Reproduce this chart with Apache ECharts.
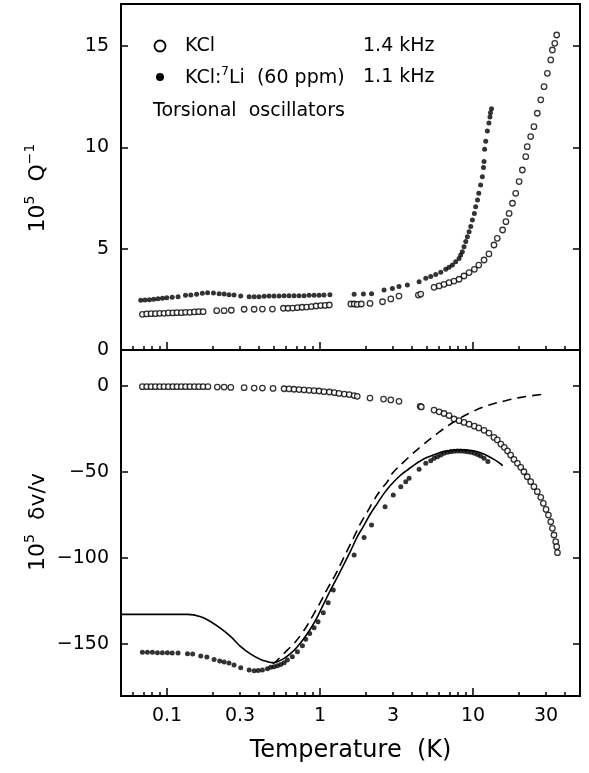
<!DOCTYPE html>
<html>
<head>
<meta charset="utf-8">
<script src="https://cdn.jsdelivr.net/npm/echarts@6/dist/echarts.min.js"></script>
<style>
html, body { margin: 0; padding: 0; background: #fff; }
#chart { width: 589px; height: 773px; }
</style>
</head>
<body>
<div id="chart"></div>
<script>
// Internal friction (upper panel), KCl, 1.4 kHz
const tempKclQ = [0.0690,0.0736,0.0786,0.0839,0.0895,0.0955,0.102,0.109,0.116,0.124,0.132,0.141,0.151,0.161,0.172,
  0.211,0.236,0.263,0.319,0.371,0.420,0.488,
  0.576,0.618,0.663,0.711,0.763,0.818,0.878,0.942,1.01,1.08,1.15,
  1.59,1.67,1.75,1.86,2.12,2.56,2.90,3.28,4.39,4.55,
  5.56,6.0,6.46,6.97,7.51,8.1,8.73,9.42,10.2,10.9,11.8,12.7,13.7,14.4,15.6,16.4,17.2,18.1,19.0,20.0,21.0,22.1,22.6,23.8,25.0,26.3,27.7,29.1,30.6,32.2,33.0,34.2,35.2];
const qKcl = [1.76,1.78,1.79,1.79,1.81,1.81,1.83,1.83,1.84,1.84,1.86,1.86,1.88,1.89,1.89,
  1.94,1.94,1.96,2.01,2.01,2.02,2.02,
  2.06,2.06,2.07,2.09,2.11,2.12,2.14,2.17,2.19,2.20,2.22,
  2.27,2.27,2.25,2.27,2.30,2.38,2.52,2.66,2.71,2.76,
  3.09,3.16,3.24,3.32,3.40,3.49,3.65,3.82,3.98,4.19,4.44,4.74,5.18,5.51,5.92,6.33,6.74,7.24,7.73,8.31,8.88,9.54,10.03,10.53,11.02,11.68,12.34,12.99,13.65,14.31,14.80,15.13,15.54];

// Internal friction (upper panel), KCl:7Li (60 ppm), 1.1 kHz
const tempLiQ = [0.0673,0.0718,0.0767,0.0818,0.0873,0.0933,0.0995,0.108,0.118,0.132,0.143,0.156,0.170,0.184,0.201,0.219,0.236,0.254,0.274,0.303,0.344,0.371,0.399,0.431,0.464,0.500,0.540,0.582,0.627,0.676,0.729,0.786,0.848,0.914,0.985,1.06,1.16,
  1.67,1.92,2.17,
  2.62,2.97,3.28,3.72,4.44,4.91,5.29,5.70,6.15,6.63,6.97,7.33,7.70,8.10,8.30,8.51,8.73,8.96,9.18,9.42,9.66,9.90,10.2,10.4,10.7,10.9,11.2,11.5,11.7,11.8,11.9,12.1,12.4,12.7,12.9,13.0,13.2];
const qLi = [2.45,2.47,2.48,2.50,2.53,2.55,2.58,2.60,2.63,2.70,2.71,2.75,2.80,2.83,2.81,2.78,2.76,2.73,2.71,2.66,2.63,2.63,2.63,2.65,2.66,2.66,2.66,2.68,2.68,2.68,2.68,2.68,2.70,2.70,2.70,2.71,2.73,
  2.75,2.76,2.78,
  2.96,3.04,3.13,3.21,3.37,3.54,3.62,3.73,3.83,3.98,4.08,4.19,4.36,4.52,4.69,4.85,5.10,5.35,5.59,5.84,6.09,6.41,6.74,7.07,7.40,7.73,8.14,8.55,9.0,9.3,9.9,10.3,10.8,11.2,11.5,11.7,11.9];

// Relative sound velocity change (lower panel), KCl
const tempKclV = [0.069,0.0736,0.0786,0.0839,0.0895,0.0955,0.102,0.109,0.116,0.124,0.132,0.141,0.151,0.161,0.172,0.185,
  0.213,0.236,0.261,0.319,0.371,0.420,0.493,
  0.582,0.627,0.676,0.729,0.786,0.848,0.914,0.985,1.06,1.15,1.24,1.33,1.44,1.55,1.67,1.75,
  2.12,2.60,2.90,3.28,4.51,4.59,
  5.56,6.0,6.46,6.97,
  7.51,8.10,8.73,9.42,10.2,10.9,11.8,12.7,13.7,14.4,15.2,16.0,16.8,17.6,18.5,19.5,20.5,21.5,22.6,23.8,25.0,26.3,27.7,28.8,30.0,31.1,32.2,33.0,33.8,34.7,35.2,35.6];
const dvKcl = [-0.4,-0.4,-0.4,-0.4,-0.4,-0.4,-0.4,-0.4,-0.4,-0.4,-0.4,-0.4,-0.4,-0.4,-0.4,-0.4,
  -0.6,-0.6,-0.8,-1.0,-1.2,-1.2,-1.4,
  -1.6,-1.7,-1.9,-2.1,-2.3,-2.5,-2.7,-2.9,-3.3,-3.5,-3.9,-4.3,-4.7,-5.0,-5.6,-6.0,
  -7.0,-7.6,-8.1,-8.9,-11.8,-12.2,
  -14.0,-15.0,-16.0,-17.2,
  -19.2,-20.2,-21.2,-22.2,-23.4,-24.4,-25.8,-27.4,-29.9,-31.4,-33.8,-35.7,-37.8,-40.2,-42.7,-45.0,-47.3,-49.9,-52.8,-55.7,-58.6,-61.5,-64.8,-68.3,-71.8,-75.1,-79.0,-82.8,-86.7,-90.6,-93.5,-97.0];

// Relative sound velocity change (lower panel), KCl:7Li
const tempLiV = [0.069,0.0744,0.0802,0.0865,0.0932,0.1005,0.108,0.118,0.136,0.147,0.166,0.182,0.203,0.221,0.236,0.254,0.274,0.303,0.344,0.371,0.394,0.420,0.453,0.476,0.500,0.526,0.553,0.582,0.611,0.659,0.711,0.767,0.806,0.856,0.914,0.970,1.05,1.13,1.22,
  1.67,1.94,2.17,2.66,3.01,3.37,3.63,3.82,4.44,4.91,5.29,5.56,5.85,6.15,6.46,6.80,7.14,7.51,7.90,8.30,8.73,9.18,9.66,10.2,10.7,11.2,11.8,12.5];
const dvLi = [-155.0,-155.0,-155.0,-155.2,-155.2,-155.2,-155.4,-155.4,-155.8,-156.0,-157.1,-157.7,-159.1,-160.0,-160.6,-161.2,-162.4,-163.9,-165.3,-165.7,-165.5,-165.3,-164.5,-163.7,-163.4,-162.8,-162.0,-161.0,-159.5,-157.5,-154.6,-151.1,-147.4,-144.0,-140.7,-137.2,-131.9,-126.1,-118.7,
  -98.4,-88.1,-80.9,-70.2,-63.4,-58.6,-55.7,-53.7,-48.5,-45.0,-43.5,-42.1,-41.1,-40.2,-39.2,-38.6,-38.2,-38.0,-37.8,-37.8,-38.0,-38.2,-38.6,-39.2,-39.8,-40.7,-42.1,-44.0];

// Model curves for the doped crystal (solid and dashed)
const tempFitSolid = [0.05,0.0822,0.136,0.166,0.193,0.224,0.261,0.303,0.352,0.409,0.453,0.488,0.526,0.582,0.643,0.711,0.786,0.869,0.961,1.06,1.17,1.30,1.44,1.59,1.75,1.94,2.14,2.37,2.62,2.90,3.37,3.72,4.11,4.55,5.03,5.56,6.15,6.80,7.51,8.30,9.18,10.2,11.2,12.4,13.7,15.2,15.6];
const dvFitSolid = [-132.9,-132.9,-132.9,-134.3,-137.2,-141.1,-145.9,-151.7,-156.0,-159.1,-160.4,-161.0,-160.4,-158.5,-155.6,-151.7,-146.8,-141.1,-134.3,-126.5,-118.8,-111.1,-103.3,-95.6,-87.8,-81.0,-74.2,-68.3,-62.5,-57.6,-51.8,-48.9,-46.0,-43.5,-41.5,-40.0,-38.6,-37.8,-37.3,-37.1,-37.3,-37.8,-38.8,-40.6,-42.7,-45.4,-46.4];
const tempFitDashed = [0.49,0.513,0.553,0.611,0.676,0.748,0.827,0.914,1.01,1.12,1.24,1.37,1.51,1.67,1.84,2.04,2.25,2.49,2.75,2.97,3.54,4.55,5.85,7.51,9.66,12.4,16.0,20.5,29.1];
const dvFitDashed = [-161.5,-160.5,-157.5,-153.7,-149.8,-144.9,-139.1,-132.3,-125.5,-117.8,-111.0,-103.2,-95.5,-87.7,-79.9,-73.1,-66.4,-60.5,-55.7,-50.8,-44.0,-35.3,-27.6,-20.8,-15.5,-11.4,-8.7,-6.6,-4.7];

// Axis ticks and labels
const tempMin = 0.05, tempMax = 50;
const tempMajorTicks = [0.1, 1, 10];
const tempMinorTicks = [0.06,0.07,0.08,0.09,0.2,0.3,0.4,0.5,0.6,0.7,0.8,0.9,2,3,4,5,6,7,8,9,20,30,40];
const tempTickLabels = [0.1, 0.3, 1, 3, 10, 30];
const qTicks = [0, 5, 10, 15];
const dvTicks = [0, -50, -100, -150];
const qRange = [0, 17.07];
const dvRange = [-180.4, 20.95];

const FONT = "'DejaVu Sans', sans-serif";
const pairs = (xs, ys) => xs.map((x, i) => [x, ys[i]]);
const lg = v => Math.log10(v);
const fmtTemp = v => String(+Math.pow(10, v).toPrecision(3));

const chart = echarts.init(document.getElementById('chart'), null, { renderer: 'canvas' });

const gridBase = { left: 121, right: 9, height: 346, show: true, borderColor: '#000', borderWidth: 2, backgroundColor: 'transparent', containLabel: false };

// hidden log axis carrying the data, plus value axes in log10 space for the tick decoration
function dataAxis(gridIndex) {
  return { type: 'log', logBase: 10, gridIndex, min: tempMin, max: tempMax, show: false };
}
function tickAxis(gridIndex, ticks, len, labels, name) {
  return {
    type: 'value', gridIndex, position: 'bottom',
    min: lg(tempMin), max: lg(tempMax),
    axisLine: { show: true, onZero: false, lineStyle: { color: '#000', width: 2 } },
    axisTick: { show: true, inside: true, length: len, customValues: ticks.map(lg), lineStyle: { color: '#000', width: 1.5 } },
    axisLabel: labels ? { show: true, customValues: labels.map(lg), formatter: fmtTemp, margin: 11, color: '#000', fontFamily: FONT, fontSize: 19 } : { show: false },
    splitLine: { show: false },
    name: name || '', nameLocation: 'middle', nameGap: 43,
    nameTextStyle: { color: '#000', fontFamily: FONT, fontSize: 24 }
  };
}
function yAxisDef(gridIndex, range, ticks, side, withLabels) {
  return {
    type: 'value', gridIndex, position: side, min: range[0], max: range[1],
    axisLine: { show: true, onZero: false, lineStyle: { color: '#000', width: 2 } },
    axisTick: { show: true, inside: true, length: 7, customValues: ticks, lineStyle: { color: '#000', width: 1.5 } },
    axisLabel: withLabels ? { show: true, customValues: ticks, margin: 12, color: '#000', fontFamily: FONT, fontSize: 19,
      formatter: v => String(v).replace('-', '\u2212') } : { show: false },
    splitLine: { show: false }
  };
}

const openCircle = { color: '#fff', borderColor: '#000', borderWidth: 1.3 };
const filledDot = { color: '#000' };

const option = {
  animation: false,
  backgroundColor: '#fff',
  grid: [ Object.assign({ top: 4 }, gridBase), Object.assign({ top: 350 }, gridBase) ],
  xAxis: [
    dataAxis(0),
    tickAxis(0, tempMinorTicks, 4, null),
    tickAxis(0, tempMajorTicks, 8, null),
    dataAxis(1),
    tickAxis(1, tempMinorTicks, 4, tempTickLabels),
    tickAxis(1, tempMajorTicks, 8, null, 'Temperature  (K)')
  ],
  yAxis: [
    yAxisDef(0, qRange, qTicks, 'left', true),
    yAxisDef(0, qRange, qTicks, 'right', false),
    yAxisDef(1, dvRange, dvTicks, 'left', true),
    yAxisDef(1, dvRange, dvTicks, 'right', false)
  ],
  series: [
    { name: 'KCl Q', type: 'scatter', xAxisIndex: 0, yAxisIndex: 0, data: pairs(tempKclQ, qKcl),
      symbol: 'circle', symbolSize: 5.5, itemStyle: openCircle, z: 3 },
    { name: 'KCl:Li Q', type: 'scatter', xAxisIndex: 0, yAxisIndex: 0, data: pairs(tempLiQ, qLi),
      symbol: 'circle', symbolSize: 5, itemStyle: filledDot, z: 4 },
    { name: 'fit solid', type: 'line', xAxisIndex: 3, yAxisIndex: 2, data: pairs(tempFitSolid, dvFitSolid),
      showSymbol: false, symbol: 'none', smooth: 0.4, lineStyle: { color: '#000', width: 1.6 }, z: 2 },
    { name: 'fit dashed', type: 'line', xAxisIndex: 3, yAxisIndex: 2, data: pairs(tempFitDashed, dvFitDashed),
      showSymbol: false, symbol: 'none', smooth: 0.4, lineStyle: { color: '#000', width: 1.6, type: [9, 6] }, z: 2 },
    { name: 'KCl dv', type: 'scatter', xAxisIndex: 3, yAxisIndex: 2, data: pairs(tempKclV, dvKcl),
      symbol: 'circle', symbolSize: 5.5, itemStyle: openCircle, z: 3 },
    { name: 'KCl:Li dv', type: 'scatter', xAxisIndex: 3, yAxisIndex: 2, data: pairs(tempLiV, dvLi),
      symbol: 'circle', symbolSize: 5, itemStyle: filledDot, z: 4 }
  ],
  graphic: [
    // key
    { type: 'circle', shape: { cx: 160, cy: 46, r: 5.5 }, style: { fill: '#fff', stroke: '#000', lineWidth: 1.8 } },
    { type: 'text', x: 185, y: 46, style: { text: 'KCl', fill: '#000', font: '19px ' + FONT, verticalAlign: 'middle' } },
    { type: 'text', x: 363, y: 46, style: { text: '1.4 kHz', fill: '#000', font: '19px ' + FONT, verticalAlign: 'middle' } },
    { type: 'circle', shape: { cx: 160, cy: 77, r: 4 }, style: { fill: '#000' } },
    { type: 'text', x: 185, y: 77, style: { text: '{n|KCl:}{s|7}{n|Li  (60 ppm)}', verticalAlign: 'middle',
      rich: { n: { fill: '#000', fontFamily: FONT, fontSize: 19, lineHeight: 22, verticalAlign: 'bottom' },
              s: { fill: '#000', fontFamily: FONT, fontSize: 12, lineHeight: 22, verticalAlign: 'top' } } } },
    { type: 'text', x: 363, y: 77, style: { text: '1.1 kHz', fill: '#000', font: '19px ' + FONT, verticalAlign: 'middle' } },
    { type: 'text', x: 153, y: 111, style: { text: 'Torsional  oscillators', fill: '#000', font: '19px ' + FONT, verticalAlign: 'middle' } },
    // y-axis titles
    { type: 'text', x: 36, y: 188, rotation: Math.PI / 2, style: { text: '{b|10}{s|5}{b|  Q}{s|\u22121}', align: 'center', verticalAlign: 'middle',
      rich: { b: { fill: '#000', fontFamily: FONT, fontSize: 22, lineHeight: 26, verticalAlign: 'bottom' },
              s: { fill: '#000', fontFamily: FONT, fontSize: 14, lineHeight: 26, verticalAlign: 'top' } } } },
    { type: 'text', x: 36, y: 522, rotation: Math.PI / 2, style: { text: '{b|10}{s|5}{b|  \u03b4v/v}', align: 'center', verticalAlign: 'middle',
      rich: { b: { fill: '#000', fontFamily: FONT, fontSize: 22, lineHeight: 26, verticalAlign: 'bottom' },
              s: { fill: '#000', fontFamily: FONT, fontSize: 14, lineHeight: 26, verticalAlign: 'top' } } } }
  ]
};

chart.setOption(option);
</script>
</body>
</html>
